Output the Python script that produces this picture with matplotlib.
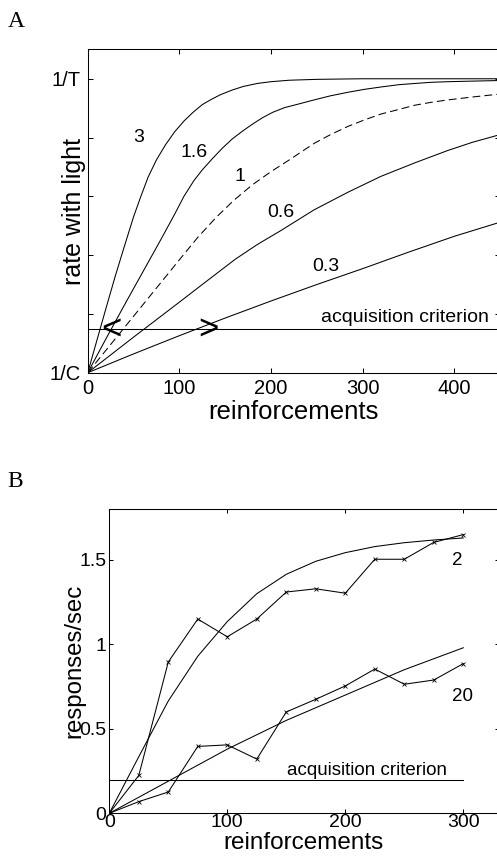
import matplotlib
matplotlib.use('Agg')
import matplotlib.pyplot as plt

plt.rcParams['font.family'] = ['Liberation Sans', 'DejaVu Sans']

# ---- panel A: model curves (rate with light vs reinforcements) ----
x_3 = [0, 10, 20, 30, 40, 50, 58, 66, 75, 85, 95, 105, 115, 125, 135, 145, 158, 170,
       185, 200, 220, 250, 300, 450]
y_3 = [0, 0.55, 1.1, 1.64, 2.15, 2.65, 3.0, 3.33, 3.62, 3.88, 4.1, 4.28, 4.43, 4.56,
       4.65, 4.73, 4.81, 4.87, 4.92, 4.95, 4.975, 4.99, 5.0, 5.0]

x_16 = [0, 20, 40, 60, 80, 95, 105, 116, 125, 136, 147, 158, 169, 180, 191, 202, 215,
        230, 247, 265, 284, 302, 320, 340, 357, 375, 393, 420, 450]
y_16 = [0, 0.58, 1.15, 1.71, 2.27, 2.7, 3.0, 3.27, 3.45, 3.64, 3.82, 3.98, 4.11, 4.23,
        4.34, 4.43, 4.51, 4.57, 4.64, 4.71, 4.77, 4.82, 4.86, 4.9, 4.92, 4.94, 4.95,
        4.96, 4.97]

x_1 = [0, 25, 50, 75, 100, 120, 140, 160, 180, 200, 220, 247, 265, 284, 302, 320, 340,
       357, 375, 393, 420, 450]
y_1 = [0, 0.48, 0.96, 1.44, 1.92, 2.3, 2.64, 2.94, 3.2, 3.42, 3.62, 3.9, 4.05, 4.19,
       4.3, 4.4, 4.48, 4.55, 4.6, 4.64, 4.69, 4.74]

x_06 = [0, 50, 100, 130, 161, 185, 211, 247, 284, 320, 357, 393, 420, 450]
y_06 = [0, 0.605, 1.2, 1.56, 1.93, 2.18, 2.42, 2.77, 3.07, 3.34, 3.57, 3.78, 3.92, 4.05]

x_03 = [0, 50, 100, 150, 200, 250, 300, 350, 400, 450]
y_03 = [0, 0.32, 0.63, 0.93, 1.22, 1.5, 1.77, 2.05, 2.32, 2.56]

curve_labels = ['3', '1.6', '1', '0.6', '0.3']
label_x = [56, 116, 166, 211, 260]
label_y = [4.0, 3.74, 3.33, 2.72, 1.81]

criterion_a = 0.74
chevron_x = [26, 132]
chevron_txt = ['<', '>']

# ---- panel B: data and model (responses/sec vs reinforcements) ----
reinf = [0, 25, 50, 75, 100, 125, 150, 175, 200, 225, 250, 275, 300]
obs_2 = [0, 0.224, 0.896, 1.15, 1.045, 1.15, 1.31, 1.329, 1.303, 1.504, 1.504, 1.604, 1.65]
obs_20 = [0, 0.069, 0.126, 0.396, 0.405, 0.321, 0.6, 0.675, 0.754, 0.854, 0.764, 0.789, 0.886]
model_2 = [0, 0.335, 0.665, 0.93, 1.135, 1.3, 1.415, 1.492, 1.543, 1.579, 1.602, 1.618, 1.63]
model_20 = [0, 0.095, 0.19, 0.285, 0.38, 0.465, 0.55, 0.625, 0.7, 0.775, 0.85, 0.915, 0.98]
criterion_b = 0.2

fig = plt.figure(figsize=(4.97, 8.63), dpi=100)
lw = 0.75

# panel A
axA = fig.add_axes([0.1765, 0.5681, 0.8296, 0.3747])
for xs, ys in [(x_3, y_3), (x_16, y_16), (x_06, y_06), (x_03, y_03)]:
    axA.plot(xs, ys, color='black', lw=lw)
axA.plot(x_1, y_1, color='black', lw=lw, linestyle=(0, (7.5, 4)))
axA.axhline(criterion_a, color='black', lw=lw)
for t, lx, ly in zip(curve_labels, label_x, label_y):
    axA.text(lx, ly, t, fontsize=14, ha='center', va='center')
for t, cx in zip(chevron_txt, chevron_x):
    axA.text(cx, criterion_a, t, fontsize=25, ha='center', va='center')
axA.text(438, 0.87, 'acquisition criterion', fontsize=14, ha='right', va='baseline')
axA.set_xlim(0, 450)
axA.set_ylim(0, 5.5)
axA.set_xticks([0, 100, 200, 300, 400])
axA.set_yticks([0, 1, 2, 3, 4, 5])
axA.set_yticklabels(['1/C', '', '', '', '', '1/T'])
axA.tick_params(direction='in', top=True, right=True, length=3.4, width=lw,
                labelsize=14.5)
axA.tick_params(axis='x', pad=4.5)
axA.tick_params(axis='y', pad=5)
axA.set_xlabel('reinforcements', fontsize=18.5)
axA.set_ylabel('rate with light', fontsize=18)
axA.xaxis.set_label_coords(0.5, -0.085)
axA.yaxis.set_label_coords(-0.004, 0.5)

# panel B
axB = fig.add_axes([0.2199, 0.0576, 0.7835, 0.3523])
axB.plot(reinf, obs_2, color='black', lw=lw, marker='x', ms=3, mew=0.6)
axB.plot(reinf, obs_20, color='black', lw=lw, marker='x', ms=3, mew=0.6)
axB.plot(reinf, model_2, color='black', lw=lw)
axB.plot(reinf, model_20, color='black', lw=lw)
axB.plot([reinf[0], reinf[-1]], [criterion_b, criterion_b], color='black', lw=lw)
axB.text(218, 0.225, 'acquisition criterion', fontsize=13.5, ha='center', va='baseline')
axB.text(294.5, 1.495, '2', fontsize=13.5, ha='center', va='center')
axB.text(299, 0.689, '20', fontsize=13.5, ha='center', va='center')
axB.set_xlim(0, 330)
axB.set_ylim(0, 1.8)
axB.set_xticks([0, 100, 200, 300])
axB.set_yticks([0, 0.5, 1, 1.5])
axB.set_yticklabels(['0', '0.5', '1', '1.5'])
axB.tick_params(direction='in', top=True, right=True, length=3, width=lw,
                labelsize=14)
axB.tick_params(axis='x', pad=0.8)
axB.tick_params(axis='y', pad=2)
axB.set_xlabel('reinforcements', fontsize=17.5)
axB.set_ylabel('responses/sec', fontsize=17.3)
axB.xaxis.set_label_coords(0.5, -0.06)
axB.yaxis.set_label_coords(-0.062, 0.5)

for ax in (axA, axB):
    for s in ax.spines.values():
        s.set_linewidth(lw)

fig.text(7.5 / 497, 1 - 27 / 863, 'A', fontsize=17, family='Liberation Serif',
         va='baseline')
fig.text(7.5 / 497, 1 - 487 / 863, 'B', fontsize=17, family='Liberation Serif',
         va='baseline')

fig.savefig('out.png', dpi=100)
